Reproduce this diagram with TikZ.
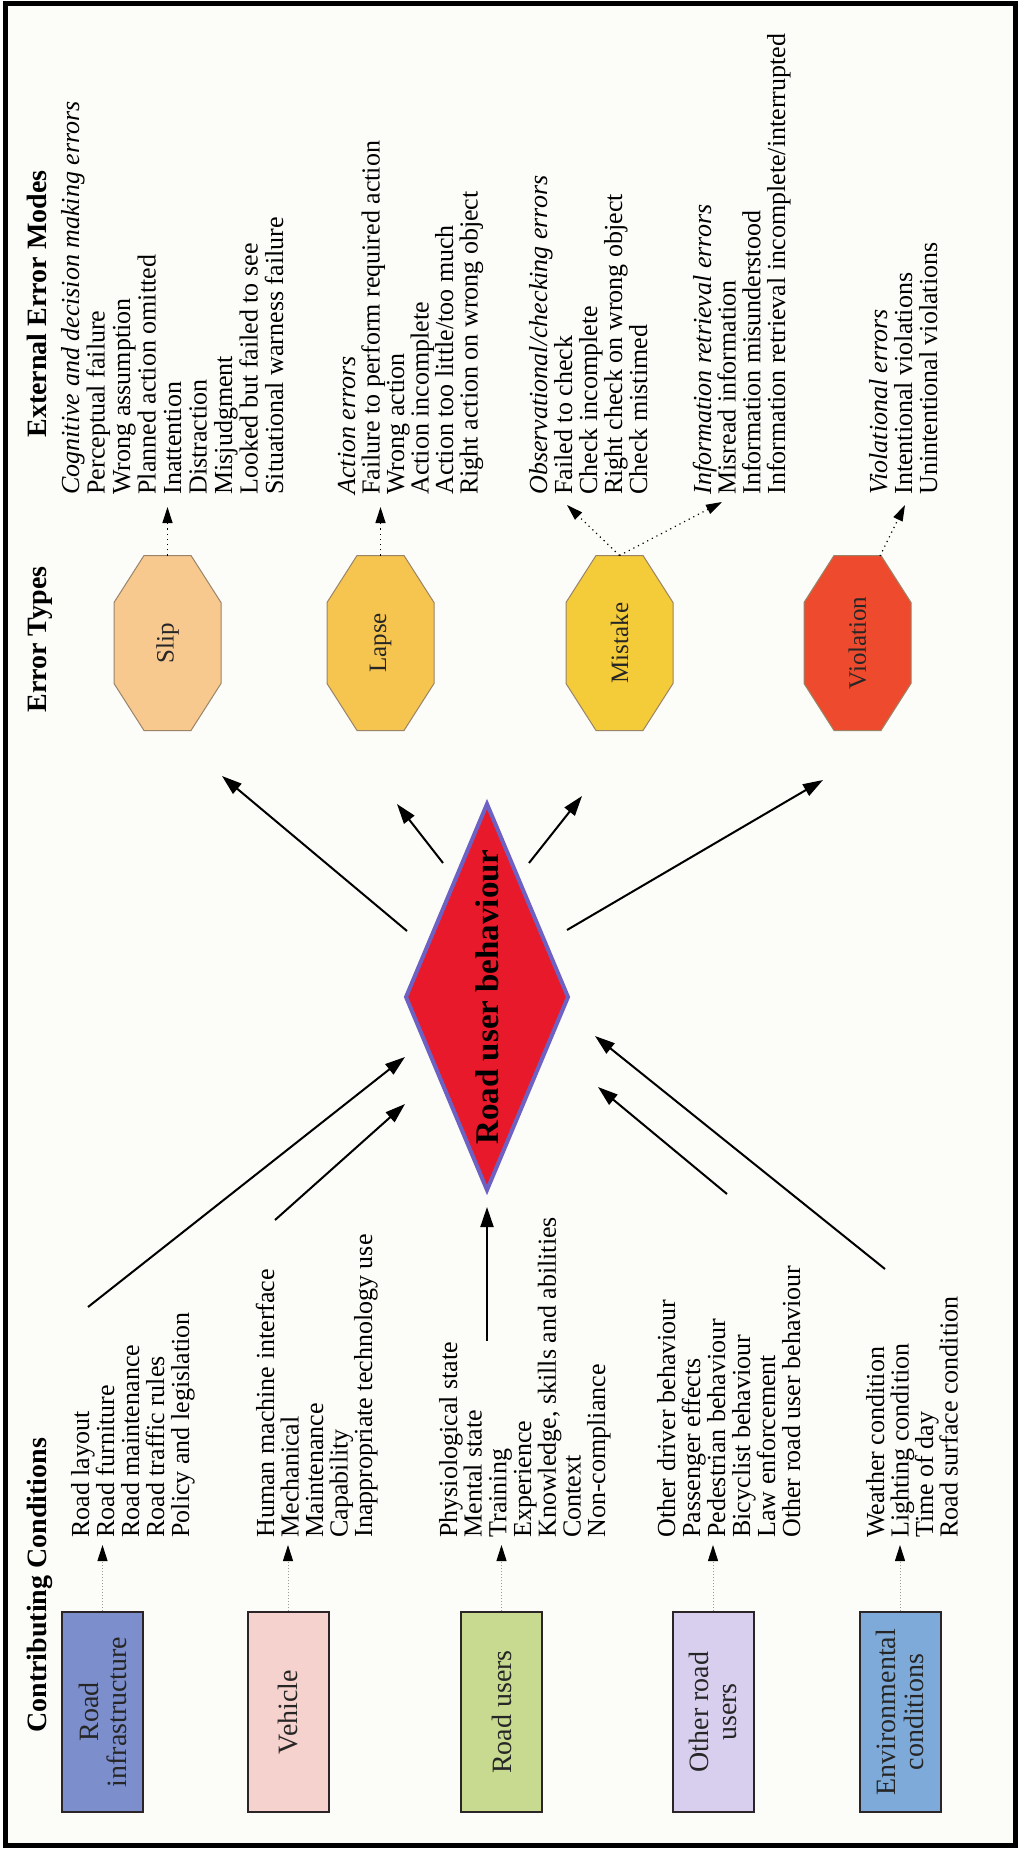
\documentclass[tikz,border=0pt]{standalone}
\usepackage{fontspec}
\setmainfont{Liberation Serif}
\usetikzlibrary{arrows.meta}
\definecolor{paper}{HTML}{FCFCF9}
\definecolor{rinfc}{HTML}{7C8FCC}
\definecolor{vehc}{HTML}{F5D2CE}
\definecolor{rusc}{HTML}{C8DA8F}
\definecolor{oruc}{HTML}{D8CFEE}
\definecolor{envc}{HTML}{7DAAD9}
\definecolor{slipc}{HTML}{F8C98F}
\definecolor{lapsec}{HTML}{F5C54F}
\definecolor{mistc}{HTML}{F4CB38}
\definecolor{violc}{HTML}{EE4B2E}
\definecolor{rubred}{HTML}{E8192B}
\definecolor{rubedge}{HTML}{6D62C4}
\definecolor{boxline}{HTML}{2B2528}
\definecolor{octborder}{HTML}{9A8468}
\newcommand{\drawoctagon}[5]{%
  \filldraw[octline, fill=#4] (#2-23.5,#3-87.5) -- (#2+23.5,#3-87.5) -- (#2+53.5,#3-40.5) -- (#2+53.5,#3+40.5) -- (#2+23.5,#3+87.5) -- (#2-23.5,#3+87.5) -- (#2-53.5,#3+40.5) -- (#2-53.5,#3-40.5) -- cycle;
  \node[octlabel] (#1) at (#2,#3) {#5};
  \coordinate (#1top) at (#2,#3-87.5);
}
\begin{document}
\begin{tikzpicture}[x=0.5pt,y=-0.5pt,
  item/.style={rotate=90, anchor=base west, inner sep=0, font=\fontsize{13}{15}\selectfont, text=black},
  ttl/.style={rotate=90, anchor=base west, inner sep=0, font=\fontsize{14}{16}\selectfont\bfseries},
  cbox/.style={draw=boxline, line width=1pt, rotate=90, minimum width=100pt, minimum height=40.5pt, inner sep=0, align=center, font=\fontsize{14}{14}\selectfont, text=black!85},
  octline/.style={draw=octborder, line width=0.5pt},
  octlabel/.style={rotate=90, inner sep=0, font=\fontsize{12.5}{14}\selectfont, text=black!85},
  solidarrow/.style={line width=1pt, -{Triangle[length=10pt,width=6.5pt]}},
  dotarrowA/.style={dotted, line width=0.6pt, -{Triangle[length=8pt,width=5pt]}},
  dotarrowB/.style={draw=gray!80, densely dotted, line width=0.5pt, -{Triangle[length=8pt,width=5pt,color=black]}}
]
\useasboundingbox (0,0) rectangle (1022,1850);
\fill[white] (0,0) rectangle (1022,1850);
\filldraw[fill=paper, draw=black, line width=2.5pt] (5,4) rectangle (1015,1845);

% titles
\node[ttl] (tcc) at (46,1733) {Contributing Conditions};
\node[ttl] (tet) at (46,713) {Error Types};
\node[ttl] (teem) at (46,438) {External Error Modes};

% contributing condition boxes
\node[cbox, fill=rinfc] (rinf) at (102.5,1712) {Road\\infrastructure};
\node[cbox, fill=vehc] (veh) at (288,1712) {Vehicle};
\node[cbox, fill=rusc] (rus) at (501.5,1712) {Road users};
\node[cbox, fill=oruc] (oru) at (713,1712) {Other road\\users};
\node[cbox, fill=envc] (env) at (900,1712) {Environmental\\conditions};

\coordinate (rinfTip) at (102.5,1545);
\coordinate (vehTip) at (288,1545);
\coordinate (rusTip) at (501.5,1545);
\coordinate (oruTip) at (713,1545);
\coordinate (envTip) at (900,1545);
\draw[dotarrowB] (rinf.east) -- (rinfTip);
\draw[dotarrowB] (veh.east) -- (vehTip);
\draw[dotarrowB] (rus.east) -- (rusTip);
\draw[dotarrowB] (oru.east) -- (oruTip);
\draw[dotarrowB] (env.east) -- (envTip);

% contributing condition lists
\foreach \t [count=\i] in {Road layout,Road furniture,Road maintenance,Road traffic rules,Policy and legislation}
  \node[item] (ri\i) at ({89+(\i-1)*25},1538) {\t};
\foreach \t [count=\i] in {Human machine interface,Mechanical,Maintenance,Capability,Inappropriate technology use}
  \node[item] (ve\i) at ({274+(\i-1)*24.5},1538) {\t};
\foreach \t [count=\i] in {Physiological state,Mental state,Training,Experience,{Knowledge, skills and abilities},Context,Non-compliance}
  \node[item] (ru\i) at ({457+(\i-1)*24.7},1538) {\t};
\foreach \t [count=\i] in {Other driver behaviour,Passenger effects,Pedestrian behaviour,Bicyclist behaviour,Law enforcement,Other road user behaviour}
  \node[item] (or\i) at ({675+(\i-1)*25},1538) {\t};
\foreach \t [count=\i] in {Weather condition,Lighting condition,Time of day,Road surface condition}
  \node[item] (en\i) at ({884+(\i-1)*24.5},1538) {\t};

% central diamond
\filldraw[fill=rubred, draw=rubedge, line width=2pt] (487,804) -- (568,997) -- (487,1190) -- (406,997) -- cycle;
\node[rotate=90, font=\fontsize{16.5}{18}\selectfont\bfseries, inner sep=0] (rub) at (487,997) {Road user behaviour};

% incoming arrows
\coordinate (inA0) at (88,1307);   \coordinate (inA1) at (405,1057);
\coordinate (inB0) at (275,1220);  \coordinate (inB1) at (405,1104);
\coordinate (inC0) at (487,1341);  \coordinate (inC1) at (487,1207);
\coordinate (inD0) at (727,1194);  \coordinate (inD1) at (598,1087);
\coordinate (inE0) at (885,1269);  \coordinate (inE1) at (595,1036);
\draw[solidarrow] (inA0) -- (inA1);
\draw[solidarrow] (inB0) -- (inB1);
\draw[solidarrow] (inC0) -- (inC1);
\draw[solidarrow] (inD0) -- (inD1);
\draw[solidarrow] (inE0) -- (inE1);

% outgoing arrows
\coordinate (outS0) at (407,931);  \coordinate (outS1) at (222,776);
\coordinate (outL0) at (443,863);  \coordinate (outL1) at (397,804);
\coordinate (outM0) at (529,863);  \coordinate (outM1) at (582,796);
\coordinate (outV0) at (567,930);  \coordinate (outV1) at (823,780);
\draw[solidarrow] (outS0) -- (outS1);
\draw[solidarrow] (outL0) -- (outL1);
\draw[solidarrow] (outM0) -- (outM1);
\draw[solidarrow] (outV0) -- (outV1);

% error type octagons
\drawoctagon{slip}{167.5}{643}{slipc}{Slip}
\drawoctagon{lapse}{380.5}{643}{lapsec}{Lapse}
\drawoctagon{mistake}{619.5}{643}{mistc}{Mistake}
\drawoctagon{viol}{857.5}{643}{violc}{Violation}

\coordinate (slipTip) at (167.5,507);
\coordinate (lapseTip) at (380.5,507);
\coordinate (mistTipA) at (567,505);
\coordinate (mistTipB) at (722,502);
\coordinate (violFoot) at (880,556);
\coordinate (violTip) at (905,505);
\draw[dotarrowA] (sliptop) -- (slipTip);
\draw[dotarrowA] (lapsetop) -- (lapseTip);
\draw[dotarrowA] (mistaketop) -- (mistTipA);
\draw[dotarrowA] (mistaketop) -- (mistTipB);
\draw[dotarrowA] (violFoot) -- (violTip);

% external error mode lists
\foreach \t [count=\i] in {{\itshape Cognitive and decision making errors},Perceptual failure,Wrong assumption,Planned action omitted,Inattention,Distraction,Misjudgment,Looked but failed to see,Situational warness failure}
  \node[item] (sl\i) at ({79+(\i-1)*25.5},495) {\t};
\foreach \t [count=\i] in {{\itshape Action errors},Failure to perform required action,Wrong action,Action incomplete,Action too little/too much,Right action on wrong object}
  \node[item] (la\i) at ({355+(\i-1)*24.5},495) {\t};
\foreach \t [count=\i] in {{\itshape Observational/checking errors},Failed to check,Check incomplete,Right check on wrong object,Check mistimed}
  \node[item] (ob\i) at ({547+(\i-1)*25},495) {\t};
\foreach \t [count=\i] in {{\itshape Information retrieval errors},Misread information,Information misunderstood,Information retrieval incomplete/interrupted}
  \node[item] (ir\i) at ({711+(\i-1)*24.7},495) {\t};
\foreach \t [count=\i] in {{\itshape Violational errors},Intentional violations,Unintentional violations}
  \node[item] (vi\i) at ({887+(\i-1)*25},495) {\t};
\end{tikzpicture}
\end{document}
